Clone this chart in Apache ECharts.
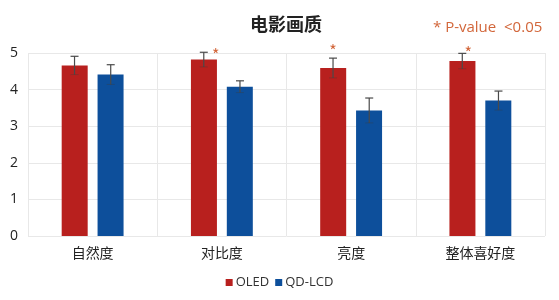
<!DOCTYPE html>
<html><head><meta charset="utf-8">
<script src="https://cdn.jsdelivr.net/npm/echarts@6/dist/echarts.min.js"></script>
<style>html,body{margin:0;padding:0;background:#fff}#c{width:559px;height:300px}</style>
</head><body><div id="c"></div>
<script>
const categories = ['自然度', '对比度', '亮度', '整体喜好度'];
const oledValues = [4.66, 4.82, 4.59, 4.78];
const oledErrors = [0.25, 0.20, 0.27, 0.21];
const qdValues = [4.41, 4.08, 3.43, 3.70];
const qdErrors = [0.27, 0.16, 0.34, 0.26];
const significant = [false, true, true, true];
const yTicks = [0, 1, 2, 3, 4, 5];

const RED = '#b8201e', BLUE = '#0d4f9b', STAR = '#d2663a';
const starOffsets = [[0, 0], [12, 2], [0, -8], [6, -1]];

const chart = echarts.init(document.getElementById('c'), null, {renderer: 'canvas'});
const FONT = '"Noto Sans CJK SC", "Noto Sans", sans-serif';

function errSeries(name, vals, errs, side) {
  return {
    type: 'custom', name: name + '_err', z: 5, silent: true,
    data: vals.map((v, i) => [i, v, errs[i]]),
    renderItem: function (params, api) {
      const i = api.value(0), v = api.value(1), e = api.value(2);
      const band = api.size([1, 0])[0];
      const off = side * band * 0.14;
      const top = api.coord([i, v + e]);
      const bot = api.coord([i, v - e]);
      const x = top[0] + off;
      const cap = 4;
      const st = {stroke: '#4a4a4a', lineWidth: 1.2};
      const children = [
        {type: 'line', shape: {x1: x, y1: top[1], x2: x, y2: bot[1]}, style: st},
        {type: 'line', shape: {x1: x - cap, y1: top[1], x2: x + cap, y2: top[1]}, style: st},
        {type: 'line', shape: {x1: x - cap, y1: bot[1], x2: x + cap, y2: bot[1]}, style: {stroke: 'rgba(60,60,60,0.35)', lineWidth: 1}}
      ];
      if (side < 0 && significant[i]) {
        const o = starOffsets[i];
        children.push({type: 'text', style: {text: '*', x: x + o[0], y: top[1] + o[1] + 1, fill: STAR, font: '16px ' + FONT, align: 'center', verticalAlign: 'middle'}});
      }
      return {type: 'group', children: children};
    }
  };
}

chart.setOption({
  animation: false,
  title: {text: '电影画质', left: 281, top: 10, textAlign: 'center',
    textStyle: {fontFamily: FONT, fontSize: 18, fontWeight: 'bold', color: '#222'}},
  graphic: [{type: 'text', left: 433, top: 20,
    style: {text: '* P-value  <0.05', fill: STAR, font: '15px "Open Sans", "Noto Sans", sans-serif'}}],
  legend: {bottom: 6, left: 'center', itemWidth: 7, itemHeight: 7, itemGap: 6, icon: 'rect',
    data: ['OLED', 'QD-LCD'],
    textStyle: {fontFamily: '"Open Sans", "Noto Sans", sans-serif', fontSize: 13, color: '#333', padding: [0, 0, 0, -2]}},
  grid: {left: 28, right: 14, top: 53, bottom: 64},
  xAxis: {type: 'category', data: categories,
    axisLine: {show: false}, axisTick: {show: false},
    splitLine: {show: true, interval: 0, lineStyle: {color: '#e8e8e8'}},
    axisLabel: {fontFamily: FONT, fontSize: 14, color: '#222', margin: 10}},
  yAxis: {type: 'value', min: 0, max: 5, interval: 1,
    axisLine: {show: false}, axisTick: {show: false},
    splitLine: {lineStyle: {color: '#e8e8e8'}},
    axisLabel: {fontFamily: '"Open Sans", "Noto Sans", sans-serif', fontSize: 14, color: '#222', margin: 10,
      formatter: v => yTicks.indexOf(v) >= 0 ? String(v) : ''}},
  series: [
    {name: 'OLED', type: 'bar', data: oledValues, barWidth: 26, barGap: '38%', itemStyle: {color: RED}},
    {name: 'QD-LCD', type: 'bar', data: qdValues, barWidth: 26, itemStyle: {color: BLUE}},
    errSeries('OLED', oledValues, oledErrors, -1),
    errSeries('QD-LCD', qdValues, qdErrors, 1)
  ]
});
</script></body></html>
